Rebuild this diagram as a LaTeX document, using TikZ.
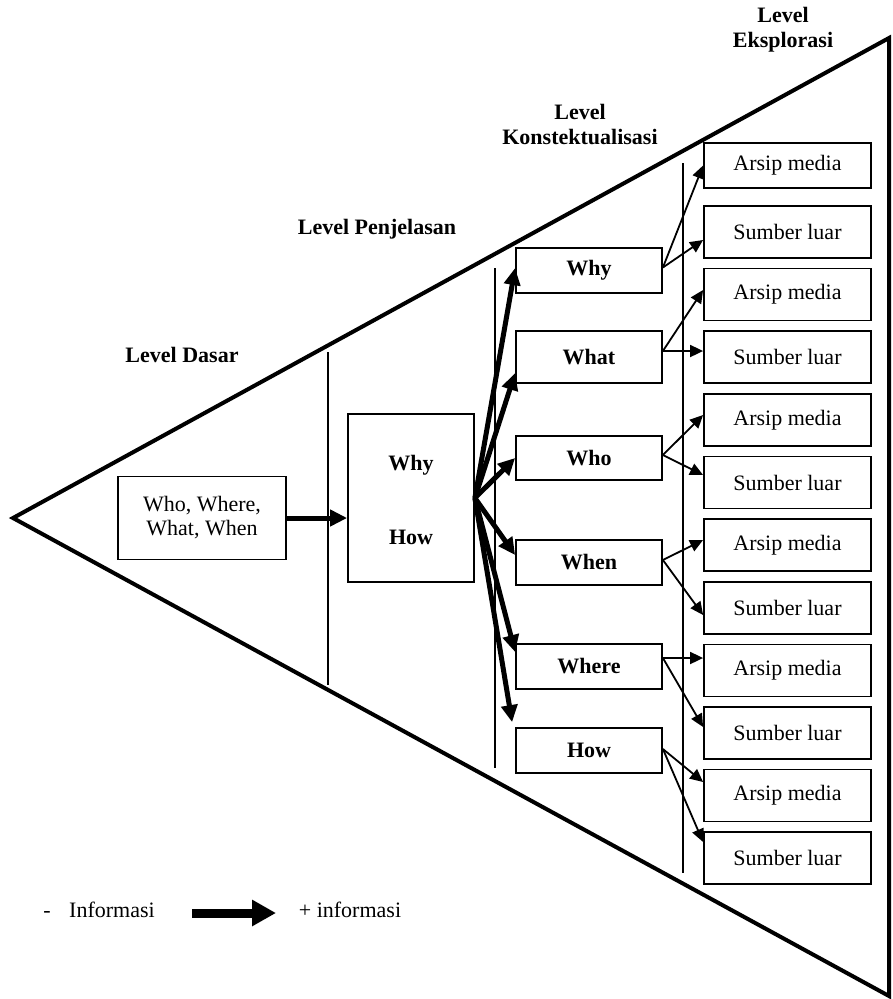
\documentclass[tikz,border=0pt]{standalone}
\usepackage{fontspec}
\setmainfont{Liberation Serif}
\usetikzlibrary{arrows.meta,calc}
\begin{document}
\begin{tikzpicture}[x=1pt,y=-1pt,
  every node/.style={font=\fontsize{22}{24}\selectfont, inner sep=0pt},
  lbl/.style={font=\fontsize{22}{25}\selectfont\bfseries, align=center},
  ctx/.style={draw, line width=1.8pt, minimum width=146pt, minimum height=45pt, font=\fontsize{22}{24}\selectfont\bfseries},
  expbox/.style={draw, line width=1.8pt, minimum width=167pt, minimum height=52pt},
  thickarrow/.style={line width=5pt, -{Triangle[length=17pt,width=16pt]}},
  thinarrow/.style={line width=1.8pt, -{Triangle[length=13pt,width=12pt]}},
  divider/.style={line width=1.8pt},
  legendtext/.style={text height=15pt, text depth=5pt}
]
\useasboundingbox (0,0) rectangle (893,999);

% triangle
\coordinate (apex) at (13,518);
\coordinate (tr) at (889,38);
\coordinate (br) at (889,996);
\draw[line width=4pt, line join=miter] (apex) -- (tr) -- (br) -- cycle;

% dividers
\coordinate (d1a) at (328,352); \coordinate (d1b) at (328,685);
\coordinate (d2a) at (495,268); \coordinate (d2b) at (495,768);
\coordinate (d3a) at (683,163); \coordinate (d3b) at (683,873);
\draw[divider] (d1a) -- (d1b);
\draw[divider] (d2a) -- (d2b);
\draw[divider] (d3a) -- (d3b);

% level labels
\node[lbl] (ldasar) at (182,355) {Level Dasar};
\node[lbl] (lpenj) at (377,229) {Level Penjelasan};
\node[lbl] (lkons) at (580,124) {Level\\Konstektualisasi};
\node[lbl] (leksp) at (783,30) {Level\\Eksplorasi};

% basic box
\node[draw, line width=1.8pt, minimum width=168pt, minimum height=83pt, align=center,
      font=\fontsize{22}{24}\selectfont] (basic) at (202,518) {Who, Where,\\What, When};

% why/how box
\node[draw, line width=1.8pt, minimum width=126pt, minimum height=168pt] (wh) at (411,498) {};
\node[font=\fontsize{22}{24}\selectfont\bfseries] (whwhy) at (411,465) {Why};
\node[font=\fontsize{22}{24}\selectfont\bfseries] (whhow) at (411,537) {How};

\draw[thickarrow] (basic.east) -- ([yshift=-20pt]wh.west);

% context boxes
\node[ctx] (cwhy)   at (589,270.5) {Why};
\node[ctx, minimum height=52pt] (cwhat)  at (589,357) {What};
\node[ctx, minimum height=44pt] (cwho)   at (589,458) {Who};
\node[ctx] (cwhen)  at (589,562.5) {When};
\node[ctx] (cwhere) at (589,666.5) {Where};
\node[ctx] (chow)   at (589,750.5) {How};

% fan arrows
\draw[thickarrow] (wh.east) -- ([yshift=2.5pt]cwhy.west);
\draw[thickarrow] (wh.east) -- ([yshift=-16pt]cwhat.west);
\draw[thickarrow] (wh.east) -- (cwho.west);
\draw[thickarrow] (wh.east) -- ([yshift=7.5pt]cwhen.west);
\draw[thickarrow] (wh.east) -- ([yshift=14.5pt]cwhere.west);
\draw[thickarrow] (wh.east) -- ([xshift=-3pt,yshift=5pt]chow.north west);

% exploration boxes
\node[expbox, minimum height=45pt] (e1) at (787.5,165.5) {Arsip media};
\node[expbox] (e2)  at (787.5,232)   {Sumber luar};
\node[expbox] (e3)  at (787.5,294.5) {Arsip media};
\node[expbox] (e4)  at (787.5,357)   {Sumber luar};
\node[expbox] (e5)  at (787.5,420)   {Arsip media};
\node[expbox] (e6)  at (787.5,482.5) {Sumber luar};
\node[expbox] (e7)  at (787.5,545)   {Arsip media};
\node[expbox] (e8)  at (787.5,608)   {Sumber luar};
\node[expbox] (e9)  at (787.5,670.5) {Arsip media};
\node[expbox] (e10) at (787.5,733)   {Sumber luar};
\node[expbox] (e11) at (787.5,795.5) {Arsip media};
\node[expbox] (e12) at (787.5,858)   {Sumber luar};

% exploration arrows
\draw[thinarrow] ([yshift=3pt]cwhy.east) -- (e1.west);
\draw[thinarrow] ([yshift=3pt]cwhy.east) -- ([yshift=-8pt]e2.west);
\draw[thinarrow] ([yshift=6pt]cwhat.east) -- ([yshift=4.5pt]e3.west);
\draw[thinarrow] ([yshift=6pt]cwhat.east) -- ([yshift=6pt]e4.west);
\draw[thinarrow] ([yshift=3pt]cwho.east) -- ([yshift=5pt]e5.west);
\draw[thinarrow] ([yshift=3pt]cwho.east) -- ([yshift=7.5pt]e6.west);
\draw[thinarrow] ([yshift=2.5pt]cwhen.east) -- ([yshift=5pt]e7.west);
\draw[thinarrow] ([yshift=2.5pt]cwhen.east) -- ([yshift=-7pt]e8.west);
\draw[thinarrow] ([yshift=8.5pt]cwhere.east) -- ([yshift=12.5pt]e9.west);
\draw[thinarrow] ([yshift=8.5pt]cwhere.east) -- ([yshift=6pt]e10.west);
\draw[thinarrow] ([yshift=1.5pt]chow.east) -- ([yshift=13.5pt]e11.west);
\draw[thinarrow] ([yshift=1.5pt]chow.east) -- ([yshift=16pt]e12.west);

% legend
\node[legendtext] (minus) at (47,912) {-};
\node[legendtext] (linfo) at (112,912) {Informasi};
\node[legendtext] (pinfo) at (350,912) {+ informasi};
\coordinate (la) at (192,913);
\coordinate (lb) at (276,913);
\draw[line width=9pt, -{Triangle[length=24pt,width=25pt]}] (la) -- (lb);
\end{tikzpicture}
\end{document}
